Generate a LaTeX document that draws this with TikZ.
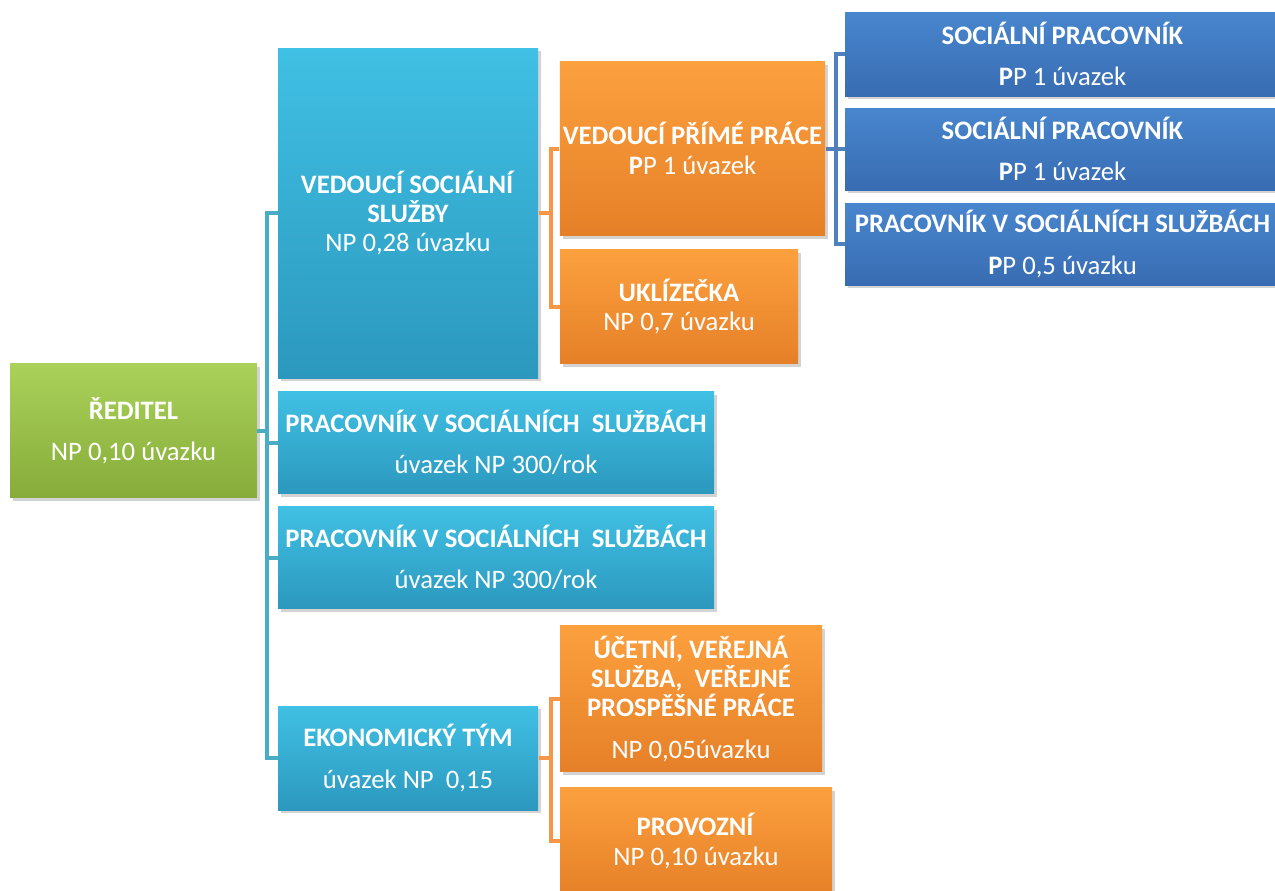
\documentclass[tikz,border=0pt]{standalone}
\usepackage{fontspec}
\setmainfont{Carlito}
\usetikzlibrary{shadows}

\definecolor{grTop}{RGB}{170,210,90}
\definecolor{grBot}{RGB}{135,172,58}
\definecolor{cyTop}{RGB}{64,192,228}
\definecolor{cyBot}{RGB}{44,152,190}
\definecolor{orTop}{RGB}{252,160,62}
\definecolor{orBot}{RGB}{230,128,40}
\definecolor{blTop}{RGB}{72,134,206}
\definecolor{blBot}{RGB}{56,108,178}
\definecolor{cyLine}{RGB}{75,172,198}
\definecolor{orLine}{RGB}{247,150,70}
\definecolor{blLine}{RGB}{79,129,189}

\tikzset{every picture/.style={line width=0.75pt}}
\tikzset{
  box/.style={draw=none, inner sep=0pt, align=center, text=white,
    font=\fontsize{20}{22}\selectfont,
    drop shadow={opacity=0.35, shadow xshift=2pt, shadow yshift=-2.5pt}},
  greenbox/.style={box, top color=grTop, bottom color=grBot},
  cyanbox/.style={box, top color=cyTop, bottom color=cyBot},
  orangebox/.style={box, top color=orTop, bottom color=orBot},
  bluebox/.style={box, top color=blTop, bottom color=blBot},
  cyanlink/.style={draw=cyLine, line width=3pt},
  orangelink/.style={draw=orLine, line width=3pt},
  bluelink/.style={draw=blLine, line width=3pt},
}

\begin{document}
\begin{tikzpicture}[x=0.75pt,y=0.75pt,yscale=-1,xscale=1]
\useasboundingbox (0,0) rectangle (1275,890);

% director
\node [greenbox, minimum width=185pt, minimum height=100pt] (reditel) at (133.5,430.5)
  {\textbf{ŘEDITEL}\\[9pt]NP 0,10 úvazku};

% second level
\node [cyanbox, minimum width=195pt, minimum height=247.5pt] (vedouci) at (408,213)
  {\textbf{VEDOUCÍ SOCIÁLNÍ}\\\textbf{SLUŽBY}\\NP 0,28 úvazku};
\node [cyanbox, minimum width=327pt, minimum height=76pt] (pss1) at (496,442.5)
  {\textbf{PRACOVNÍK V SOCIÁLNÍCH \ SLUŽBÁCH}\\[9pt]úvazek NP 300/rok};
\node [cyanbox, minimum width=327pt, minimum height=76pt] (pss2) at (496,557.5)
  {\textbf{PRACOVNÍK V SOCIÁLNÍCH \ SLUŽBÁCH}\\[9pt]úvazek NP 300/rok};
\node [cyanbox, minimum width=195pt, minimum height=78pt] (ekonom) at (408,758)
  {\textbf{EKONOMICKÝ TÝM}\\[9pt]úvazek NP \ 0,15};

% third level
\node [orangebox, minimum width=199pt, minimum height=130pt] (vpp) at (692.5,148.5)
  {\textbf{VEDOUCÍ PŘÍMÉ PRÁCE}\\\textbf{P}P 1 úvazek};
\node [orangebox, minimum width=178.5pt, minimum height=85pt] (uklid) at (679,306.5)
  {\textbf{UKLÍZEČKA}\\NP 0,7 úvazku};
\node [orangebox, minimum width=196.5pt, minimum height=110pt] (ucetni) at (691,698.5)
  {\textbf{ÚČETNÍ, VEŘEJNÁ}\\\textbf{SLUŽBA, \ VEŘEJNÉ}\\\textbf{PROSPĚŠNÉ PRÁCE}\\[9pt]NP 0,05úvazku};
\node [orangebox, minimum width=204pt, minimum height=80pt] (provoz) at (696,841)
  {\textbf{PROVOZNÍ}\\NP 0,10 úvazku};

% fourth level
\node [bluebox, minimum width=326pt, minimum height=63pt] (socprac1) at (1062.5,54)
  {\textbf{SOCIÁLNÍ PRACOVNÍK}\\[9pt]\textbf{P}P 1 úvazek};
\node [bluebox, minimum width=326pt, minimum height=61.5pt] (socprac2) at (1062.5,149)
  {\textbf{SOCIÁLNÍ PRACOVNÍK}\\[9pt]\textbf{P}P 1 úvazek};
\node [bluebox, minimum width=326pt, minimum height=61.5pt] (pss3) at (1062.5,244)
  {\textbf{PRACOVNÍK V SOCIÁLNÍCH SLUŽBÁCH}\\[9pt]\textbf{P}P 0,5 úvazku};

% connectors
\foreach \kid in {vedouci,pss1,pss2,ekonom}
  \draw [cyanlink] (reditel.east) -- +(10,0) |- (\kid.west);
\foreach \kid in {vpp,uklid}
  \draw [orangelink] (vedouci.east) -- +(12,0) |- (\kid.west);
\foreach \kid in {ucetni,provoz}
  \draw [orangelink] (ekonom.east) -- +(12,0) |- (\kid.west);
\foreach \kid in {socprac1,socprac2,pss3}
  \draw [bluelink] (vpp.east) -- +(10,0) |- (\kid.west);

\end{tikzpicture}
\end{document}
